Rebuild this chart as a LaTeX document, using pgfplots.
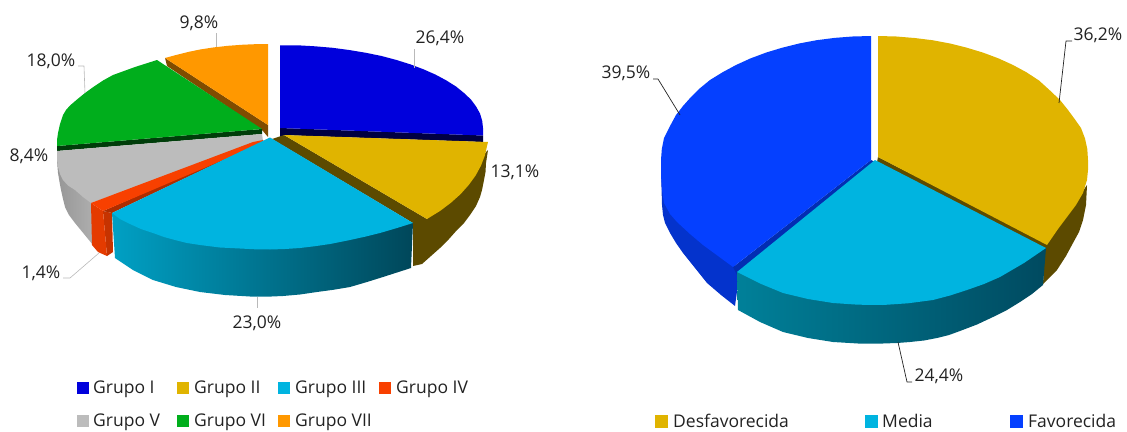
\documentclass[border=0pt]{standalone}
\usepackage{fontspec}
\setmainfont{Open Sans}
\usepackage{pgfplots}
\pgfplotsset{compat=1.18}
\definecolor{gI}{HTML}{0000DC}
\definecolor{gII}{HTML}{E0B400}
\definecolor{gIII}{HTML}{00B4E0}
\definecolor{gIV}{HTML}{F84000}
\definecolor{gV}{HTML}{BCBCBC}
\definecolor{gVI}{HTML}{00AE1C}
\definecolor{gVII}{HTML}{FF9800}
\definecolor{fav}{HTML}{0540FF}
\definecolor{brownside}{HTML}{5C4A00}
\definecolor{txt}{HTML}{222222}
\definecolor{tealA}{HTML}{00A0C4}
\definecolor{tealB}{HTML}{00667F}
\definecolor{tealC}{HTML}{00475A}
\definecolor{tealD}{HTML}{008099}
\definecolor{tealE}{HTML}{00505F}
\definecolor{tealF}{HTML}{004A60}
\newcommand{\lab}{\fontsize{17.5}{21}\selectfont}
\newcommand{\legf}{\fontsize{17.5}{21}\selectfont}
\pgfplotsset{
  pieaxis/.style={scale only axis, hide axis, clip=false, y dir=reverse,
    height=431pt, ymin=0, ymax=431, anchor=south west,
    every axis plot/.append style={line join=round}},
  face/.style={fill=#1, draw=none},
  sh/.style n args={3}{left color=#1, middle color=#2, right color=#3, draw=none},
  leadl/.style={draw=gray!55, line width=0.6pt},
  leadd/.style={draw=txt, line width=0.7pt},
}
\tikzset{
  val/.style={font=\lab, text=txt, inner sep=0pt},
  lg/.style={font=\legf, text=txt, inner sep=0pt, anchor=base west},
}
\begin{document}
\begin{tikzpicture}
\path[use as bounding box] (0,0) rectangle (1127pt,431pt);
% ---- izquierda
\begin{axis}[pieaxis, width=563pt, xmin=0, xmax=563]
  % Grupo VII
  \addplot[face=gVII!50!black] coordinates {(165,58) (268,125) (268,137) (262,130) (167,66)} -- cycle;
  \addplot[face=gVII] coordinates {(268,125) (268,44) (255,44.2) (243,44.7) (228,45.8) (213,47.5) (200,49.5) (188,52) (176,55) (165,58)} -- cycle;
  % Grupo VI
  \addplot[face=gVI!35!black] coordinates {(57,146) (262,129) (262,134) (57,151)} -- cycle;
  \addplot[face=gVI] coordinates {(262,129) (157,60) (146,63.5) (135,67) (124,71) (113,75) (103,80.5) (94,86.5) (85,93)
    (77,99.5) (70,105.5) (66,110) (63,115) (60,124) (58,133) (57,140) (57,146)} -- cycle;
  % Grupo V
  \addplot[sh={gV!80!black}{gV!85!black}{gV!95!black}] coordinates {(57,160) (57.5,167) (58,173) (59.5,182) (61,190) (63,199) (65,207)
    (69,215) (75,223) (84,234) (93,245) (100,240) (91,195)} -- cycle;
  \addplot[face=gV] coordinates {(262,134) (57,151) (57,160) (58,167) (60,174) (63,180) (68,185.5) (75,190) (83,197) (91,203) (263,141)} -- cycle;
  % Grupo IV
  \addplot[face=gIV!80!black] coordinates {(103,211) (112,213) (113,252) (107,256)} -- cycle;
  \addplot[face=gIV!92!black] coordinates {(91,203) (103,211) (107,256) (98,252) (92,245)} -- cycle;
  \addplot[face=gIV!70!black] coordinates {(103,211) (112,213) (270,138) (263,141)} -- cycle;
  \addplot[face=gIV] coordinates {(91,203) (103,211) (263,143) (263,140) (253,142)} -- cycle;
  % Grupo I
  \addplot[face=gI!30!black] coordinates {(280,128) (483,135.5) (483,142) (280,135)} -- cycle;
  \addplot[face=gI!30!black] coordinates {(280,128) (283,128) (283,150) (280,150)} -- cycle;
  \addplot[face=gI] coordinates {(280,128) (280,45.5) (297.7,45.3) (315,46.3) (332.6,47.8) (349,50) (365.9,52.8) (381.5,56) (396.5,60)
    (410.5,64.4) (423.5,69.3) (435.5,74.6) (446.3,80.4) (456,86.5) (463.9,92.9) (471,99.6) (476.1,106.5) (480,113.5)
    (482.2,120.8) (483,128) (483,135.5)} -- cycle;
  % Grupo II
  \addplot[face=brownside] coordinates {(488,150) (486,163) (485.5,172) (484,180) (482,190) (480,197) (476,206) (470,215) (464,223)
    (457,230) (449,239) (440,248) (431,256) (422,264) (413,266) (413,223) (272,139) (284,135) (427,219)} -- cycle;
  \addplot[face=gII] coordinates {(284,135) (488,142) (487.2,145.3) (484.9,155.5) (481,165.6) (475.7,175.4) (468.8,184.9) (460.7,194)
    (451,202.7) (440.3,210.8) (427,219)} -- cycle;
  % Grupo III
  \addplot[sh={tealA}{tealB}{tealC}] coordinates {(112,213) (413,223) (411,268) (397,272.5) (383,277) (367,282) (350,287) (334,289.7)
    (317,292) (300,294.5) (283,296) (267,296.7) (250,296.5) (225,295) (200,292) (176,287) (153,280) (133,270) (115,258)} -- cycle;
  \addplot[face=gIII] coordinates {(270,137.5) (413,223) (397,228) (380,233) (365,236.7) (350,240) (330,244) (315,246.2) (300,248)
    (285,249) (270,249.5) (255,249.3) (240,248.5) (220,247.5) (200,245) (187,243) (175,240) (164,237) (153,233) (141,229)
    (130,224) (120,219) (112,213)} -- cycle;
  % lineas guia
  \addplot[leadl] coordinates {(216,33) (216,47)};
  \addplot[leadl] coordinates {(78,66) (84,66) (85,93)};
  \addplot[leadl] coordinates {(414,49) (414,68)};
  \addplot[leadl] coordinates {(63,278) (70,278) (99,253)};
  \addplot[leadl] coordinates {(257,297) (257,308)};
  % valores
  \node[val] at (axis cs:199,23) {9,8\%};
  \node[val] at (axis cs:51,61) {18,0\%};
  \node[val] at (axis cs:440,38) {26,4\%};
  \node[val] at (axis cs:515,172) {13,1\%};
  \node[val] at (axis cs:29,156) {8,4\%};
  \node[val] at (axis cs:41,273) {1,4\%};
  \node[val] at (axis cs:257,323) {23,0\%};
  % leyenda
  \addplot[face=gI] coordinates {(77,381.5) (89,381.5) (89,393.5) (77,393.5)} -- cycle;
  \addplot[face=gII] coordinates {(177,381.5) (189,381.5) (189,393.5) (177,393.5)} -- cycle;
  \addplot[face=gIII] coordinates {(278,381.5) (290,381.5) (290,393.5) (278,393.5)} -- cycle;
  \addplot[face=gIV] coordinates {(379,381.5) (391,381.5) (391,393.5) (379,393.5)} -- cycle;
  \addplot[face=gV] coordinates {(77,414.5) (89,414.5) (89,426.5) (77,426.5)} -- cycle;
  \addplot[face=gVI] coordinates {(177,414.5) (189,414.5) (189,426.5) (177,426.5)} -- cycle;
  \addplot[face=gVII] coordinates {(278,414.5) (290,414.5) (290,426.5) (278,426.5)} -- cycle;
  \node[lg] at (axis cs:93,393.5) {Grupo I};
  \node[lg] at (axis cs:194,393.5) {Grupo II};
  \node[lg] at (axis cs:295,393.5) {Grupo III};
  \node[lg] at (axis cs:396,393.5) {Grupo IV};
  \node[lg] at (axis cs:93,426.5) {Grupo V};
  \node[lg] at (axis cs:194,426.5) {Grupo VI};
  \node[lg] at (axis cs:295,426.5) {Grupo VII};
\end{axis}
% ---- derecha
\begin{axis}[pieaxis, at={(563pt,0pt)}, width=564pt, xmin=563, xmax=1127]
  % Favorecida
  \addplot[face=fav!80!black] coordinates {(661,170) (662,205) (663,215) (665,223) (670,233) (676,243) (683,253) (695,268) (707,283) (721,295) (735,306) (740,270) (700,235)} -- cycle;
  \addplot[face=fav!70!black] coordinates {(871,160) (733,267) (737,275) (875,162)} -- cycle;
  \addplot[face=fav] coordinates {(871,160) (871,36) (852.7,36.5) (834.5,37.9) (816.6,40.2) (799,43.5) (782.2,47.7) (766,52.6) (750.5,58.4)
    (736,65) (722.5,72.3) (710,80) (699,89) (691,97) (683,106) (676,115) (669.5,127) (664,138) (661.8,149) (661,160) (661,175)
    (662,190) (664,203) (670,214) (677,222) (690,234) (703,245) (718,256) (733,267)} -- cycle;
  % Desfavorecida
  \addplot[face=brownside] coordinates {(1087,185) (1086,205) (1083,220) (1079,232) (1073,243) (1066,256) (1057,270) (1050,277) (1043,284)
    (1045,250) (877,162) (878,157) (1047,243)} -- cycle;
  \addplot[face=gII] coordinates {(878,157) (878,36) (896.3,36.5) (914.5,38) (932.4,40.2) (950,43.5) (966.8,47.7) (983,52.6) (998.5,58.4)
    (1013,65) (1026.5,72.3) (1039,80.5) (1050,90.5) (1060,100) (1068,110) (1075,119.5) (1081,128) (1085,138.5) (1087.3,149) (1088,160)
    (1088,170) (1087,180) (1083,193) (1076,205) (1067,217) (1058,229) (1047,245)} -- cycle;
  % Media
  \addplot[sh={tealD}{tealE}{tealF}] coordinates {(737,272) (1046,248) (1043,285) (1032,294) (1020,302) (1007,310) (993,317) (977,324.5)
    (960,331) (949,335) (937,338) (924,340.5) (910,342) (897,343) (883,343.5) (858,343.5) (833,342) (808,338) (783,332) (760,322) (738,310)} -- cycle;
  \addplot[face=gIII] coordinates {(875,160) (1046,248) (1024,263) (1000,277) (984,284) (967,290) (950,295.5) (933,300) (908,303.3) (883,305)
    (858,304.7) (833,303) (808,299) (783,293) (760,283.5) (737,272)} -- cycle;
  % lineas guia
  \addplot[leadd] coordinates {(653,79) (658,79) (680,115)};
  \addplot[leadd] coordinates {(1072,41) (1066,41) (1059,103)};
  \addplot[leadd] coordinates {(898,342) (907,382) (912,382)};
  % valores
  \node[val] at (axis cs:626,73) {39,5\%};
  \node[val] at (axis cs:1098,35) {36,2\%};
  \node[val] at (axis cs:939,376) {24,4\%};
  % leyenda
  \addplot[face=gII] coordinates {(654.5,415) (667.5,415) (667.5,428) (654.5,428)} -- cycle;
  \addplot[face=gIII] coordinates {(864.5,415) (877.5,415) (877.5,428) (864.5,428)} -- cycle;
  \addplot[face=fav] coordinates {(1010,415) (1023,415) (1023,428) (1010,428)} -- cycle;
  \node[lg] at (axis cs:673,427.5) {Desfavorecida};
  \node[lg] at (axis cs:882,427.5) {Media};
  \node[lg] at (axis cs:1028,427.5) {Favorecida};
\end{axis}
\end{tikzpicture}
\end{document}
